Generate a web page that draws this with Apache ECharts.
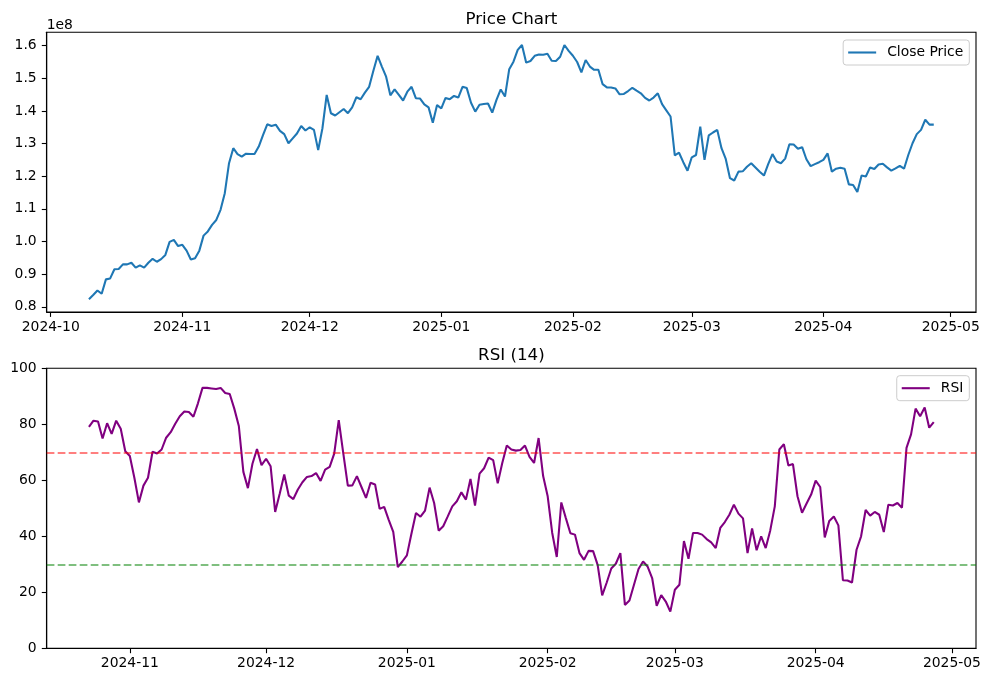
<!DOCTYPE html>
<html>
<head>
<meta charset="utf-8">
<script src="https://cdn.jsdelivr.net/npm/echarts@6/dist/echarts.min.js"></script>
<style>
  html, body { margin: 0; padding: 0; background: #fff; }
  #chart { width: 990px; height: 682px; }
</style>
</head>
<body>
<div id="chart"></div>
<script>
// ---- data ----
const START_DATE = '2024-10-10';          // first day shown (daily data)
const PRICE_SCALE = 1e8;                   // axis offset text "1e8"
const closePrice = [ // in units of 1e8
  0.823,0.836,0.850,0.840,0.884,0.887,0.915,0.916,0.930,0.930,
  0.935,0.920,0.927,0.920,0.935,0.947,0.938,0.946,0.959,0.999,
  1.005,0.986,0.990,0.972,0.945,0.949,0.972,1.018,1.031,1.051,
  1.066,1.097,1.148,1.240,1.286,1.268,1.260,1.269,1.268,1.268,
  1.291,1.326,1.359,1.354,1.358,1.339,1.329,1.301,1.316,1.331,
  1.354,1.340,1.350,1.342,1.280,1.347,1.449,1.393,1.386,1.396,
  1.406,1.393,1.411,1.442,1.436,1.456,1.474,1.523,1.569,1.536,
  1.505,1.448,1.466,1.449,1.432,1.459,1.474,1.439,1.438,1.420,
  1.411,1.364,1.418,1.408,1.440,1.436,1.446,1.441,1.474,1.470,
  1.425,1.398,1.419,1.421,1.423,1.395,1.434,1.466,1.444,1.528,
  1.551,1.587,1.602,1.548,1.553,1.569,1.573,1.572,1.575,1.554,
  1.553,1.566,1.602,1.584,1.569,1.550,1.518,1.556,1.536,1.526,
  1.526,1.482,1.472,1.472,1.469,1.451,1.452,1.461,1.471,1.462,
  1.454,1.440,1.432,1.441,1.454,1.421,1.402,1.383,1.264,1.272,
  1.243,1.217,1.258,1.265,1.352,1.250,1.325,1.334,1.342,1.286,
  1.253,1.194,1.187,1.214,1.215,1.229,1.240,1.227,1.214,1.202,
  1.237,1.268,1.245,1.240,1.254,1.298,1.297,1.284,1.289,1.252,
  1.231,1.237,1.243,1.250,1.270,1.214,1.223,1.226,1.223,1.175,
  1.173,1.152,1.202,1.199,1.227,1.222,1.236,1.238,1.227,1.217,
  1.224,1.232,1.223,1.265,1.301,1.329,1.342,1.373,1.358,1.358
];
const RSI_PERIOD = 14;
const RSI_START_INDEX = 13;                // first day with an RSI value
const rsiValues = [
  79.1,81.3,81.0,74.9,80.4,76.6,81.3,78.4,70.4,68.7,
  60.9,52.1,58.1,60.9,70.2,69.6,71.0,75.2,77.2,80.2,
  82.9,84.6,84.4,82.7,87.5,93.0,93.0,92.8,92.6,93.0,
  91.2,90.8,85.6,79.4,63.0,57.2,65.9,71.2,65.4,67.7,
  65.0,48.7,55.2,62.1,54.5,53.3,56.7,59.3,61.2,61.5,
  62.6,59.8,63.8,64.8,69.5,81.5,69.6,58.1,58.2,61.5,
  57.6,53.7,59.1,58.5,49.8,50.5,45.9,41.6,29.0,31.0,
  33.2,40.9,48.3,47.0,49.2,57.4,51.9,42.0,43.6,47.1,
  50.7,52.5,55.7,53.1,60.5,51.0,62.4,64.3,68.1,67.2,
  58.9,66.2,72.4,71.0,70.6,70.8,72.4,68.4,66.2,75.1,
  61.5,54.3,41.2,32.6,52.1,46.5,41.1,40.6,34.0,31.6,
  34.8,34.7,29.8,18.9,23.5,28.5,30.2,34.0,15.5,17.1,
  22.7,28.3,31.0,29.2,25.1,15.2,19.0,16.7,13.1,20.9,
  22.7,38.3,32.0,41.2,41.2,40.6,39.0,37.8,35.8,43.0,
  45.1,47.7,51.3,48.1,46.4,34.0,42.8,35.0,40.0,35.8,
  42.1,50.7,71.0,72.9,65.3,65.8,54.3,48.4,51.7,54.9,
  59.9,57.6,39.6,45.5,47.1,43.9,24.3,24.2,23.5,35.2,
  40.0,49.4,47.4,48.7,47.7,41.5,51.3,51.0,51.9,50.2,
  71.6,76.4,85.6,82.9,86.0,78.8,80.8
];
const OVERBOUGHT = 70;
const OVERSOLD = 30;
const priceTickLabels = ['0.8','0.9','1.0','1.1','1.2','1.3','1.4','1.5','1.6'];
const rsiTickLabels = ['0','20','40','60','80','100'];
const priceMonthTicks = ['2024-10','2024-11','2024-12','2025-01','2025-02','2025-03','2025-04','2025-05'];
const rsiMonthTicks = ['2024-11','2024-12','2025-01','2025-02','2025-03','2025-04','2025-05'];

// ---- build ----
const DAY = 86400000;
const t0 = Date.parse(START_DATE + 'T00:00:00Z');
const dates = closePrice.map((_, i) => t0 + i * DAY);
const priceData = closePrice.map((v, i) => [dates[i], v * PRICE_SCALE]);
const rsiData = rsiValues.map((v, i) => [dates[RSI_START_INDEX + i], v]);

function monthTs(s) { const [y, m] = s.split('-').map(Number); return Date.UTC(y, m - 1, 1); }
function fmtMonth(v) {
  const d = new Date(Math.round(v));
  return d.getUTCFullYear() + '-' + String(d.getUTCMonth() + 1).padStart(2, '0');
}
function padRange(a, b, f) { const m = (b - a) * f; return [a - m, b + m]; }

const pxRange = padRange(dates[0], dates[dates.length - 1], 0.05);
const rxRange = padRange(rsiData[0][0], rsiData[rsiData.length - 1][0], 0.05);
const pyRange = padRange(Math.min(...closePrice) * PRICE_SCALE, Math.max(...closePrice) * PRICE_SCALE, 0.05);

const FONT = 'DejaVu Sans';
const TICK_FS = 13.9;
const LW = 2.08;

function dateAxis(grid, range, ticks) {
  const vals = ticks.map(monthTs);
  return {
    type: 'value', gridIndex: grid, min: range[0], max: range[1], scale: true,
    axisLine: { show: true, onZero: false, lineStyle: { color: '#000', width: 1.1 } },
    axisTick: { show: true, length: 4.9, lineStyle: { color: '#000', width: 1.1 }, customValues: vals },
    axisLabel: { show: true, customValues: vals, formatter: fmtMonth, color: '#000', fontSize: TICK_FS, fontFamily: FONT, margin: 8, hideOverlap: false },
    splitLine: { show: false }, minorTick: { show: false }
  };
}
function valueAxis(grid, range, labels, scale) {
  const vals = labels.map(s => Number(s) * scale);
  return {
    type: 'value', gridIndex: grid, min: range[0], max: range[1], scale: true,
    axisLine: { show: true, onZero: false, lineStyle: { color: '#000', width: 1.1 } },
    axisTick: { show: true, length: 4.9, lineStyle: { color: '#000', width: 1.1 }, customValues: vals },
    axisLabel: { show: true, customValues: vals, color: '#000', fontSize: TICK_FS, fontFamily: FONT, margin: 10,
      formatter: v => { const i = vals.findIndex(x => Math.abs(x - v) < scale * 1e-6); return i >= 0 ? labels[i] : ''; } },
    splitLine: { show: false }
  };
}
const legendBase = {
  orient: 'horizontal', right: 20.7, icon: 'rect', itemWidth: 28, itemHeight: 2.1, itemGap: 0,
  padding: [5, 6, 5, 5], backgroundColor: 'rgba(255,255,255,0.8)', borderColor: '#cccccc',
  borderWidth: 1, borderRadius: 3,
  textStyle: { fontSize: TICK_FS, color: '#000', fontFamily: FONT, padding: [0, 0, 0, 6], lineHeight: 15 }
};

const option = {
  animation: false,
  backgroundColor: '#fff',
  textStyle: { fontFamily: FONT },
  grid: [
    { left: 46.7, right: 14, top: 32.3, height: 279.7, show: true, borderColor: '#000', borderWidth: 1.1, containLabel: false },
    { left: 46.7, right: 14, top: 368.3, height: 280, show: true, borderColor: '#000', borderWidth: 1.1, containLabel: false }
  ],
  xAxis: [ dateAxis(0, pxRange, priceMonthTicks), dateAxis(1, rxRange, rsiMonthTicks) ],
  yAxis: [ valueAxis(0, pyRange, priceTickLabels, PRICE_SCALE), valueAxis(1, [0, 100], rsiTickLabels, 1) ],
  legend: [
    Object.assign({}, legendBase, { top: 40, data: ['Close Price'] }),
    Object.assign({}, legendBase, { top: 375.7, data: ['RSI'] })
  ],
  graphic: [
    { type: 'text', x: 511.4, y: 20, style: { text: 'Price Chart', fontSize: 16.7, fontFamily: FONT, fill: '#000', align: 'center', verticalAlign: 'middle' } },
    { type: 'text', x: 511.4, y: 356, style: { text: 'RSI (' + RSI_PERIOD + ')', fontSize: 16.7, fontFamily: FONT, fill: '#000', align: 'center', verticalAlign: 'middle' } },
    { type: 'text', x: 46.7, y: 25, style: { text: '1e8', fontSize: TICK_FS, fontFamily: FONT, fill: '#000', align: 'left', verticalAlign: 'middle' } }
  ],
  series: [
    { name: 'Close Price', type: 'line', xAxisIndex: 0, yAxisIndex: 0, data: priceData,
      symbol: 'none', showSymbol: false, lineStyle: { color: '#1f77b4', width: LW }, itemStyle: { color: '#1f77b4' } },
    { name: 'RSI', type: 'line', xAxisIndex: 1, yAxisIndex: 1, data: rsiData,
      symbol: 'none', showSymbol: false, lineStyle: { color: '#800080', width: LW }, itemStyle: { color: '#800080' },
      markLine: { silent: true, symbol: ['none', 'none'], label: { show: false }, animation: false,
        data: [
          { yAxis: OVERBOUGHT, lineStyle: { color: 'rgba(255,0,0,0.5)', type: [7.7, 3.3], width: LW } },
          { yAxis: OVERSOLD, lineStyle: { color: 'rgba(0,128,0,0.5)', type: [7.7, 3.3], width: LW } }
        ] } }
  ]
};
const chart = echarts.init(document.getElementById('chart'));
chart.setOption(option);
</script>
</body>
</html>
